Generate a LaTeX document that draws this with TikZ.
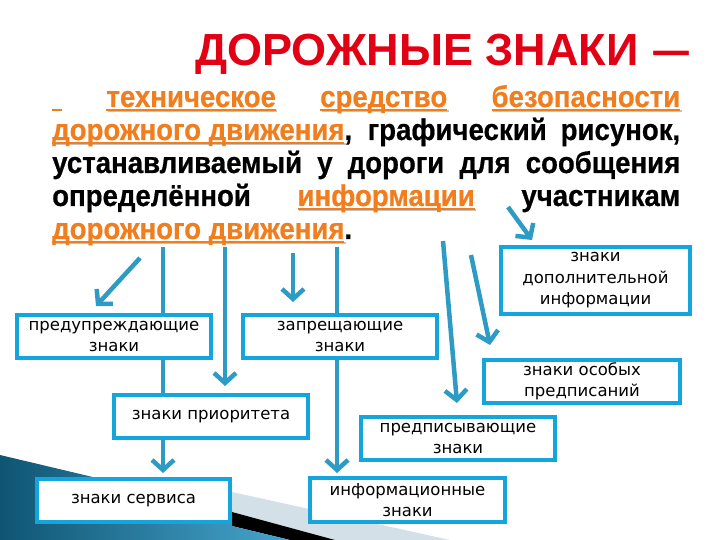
\documentclass[tikz,border=0pt]{standalone}
\usepackage{fontspec}
\usetikzlibrary{arrows.meta,calc}
\setmainfont{Liberation Sans}
\newfontfamily\titlefont{Liberation Sans Bold}
\newfontfamily\bodyfont{Liberation Sans Bold}[FakeStretch=0.92,FakeBold=0.6]
\newfontfamily\boxfont{DejaVu Sans}
\definecolor{boxblue}{RGB}{20,165,220}
\definecolor{arrowblue}{RGB}{45,155,195}
\definecolor{titlered}{RGB}{225,0,20}
\definecolor{ortext}{RGB}{240,125,30}
\definecolor{orshadow}{RGB}{195,195,195}
\definecolor{tealdark}{RGB}{15,85,115}
\definecolor{teallight}{RGB}{70,165,205}
\definecolor{bandgray}{RGB}{212,224,232}
\newcommand\ow[1]{\setbox0\hbox{#1}%
  \rlap{\kern1.5pt\textcolor{orshadow}{\rule[-5.5pt]{\wd0}{2pt}}}%
  {\color{ortext}\rlap{\rule[-4pt]{\wd0}{2pt}}\box0}}
\pgfdeclarelayer{bg}
\pgfsetlayers{bg,main}
\tikzset{
  sbox/.style={draw=boxblue, line width=4pt, fill=white, align=center, inner sep=0pt,
    text=black, font=\boxfont\fontsize{16.5}{21.5}\selectfont},
  arr/.style={draw=arrowblue, line width=4.5pt, -{Straight Barb[length=10pt,width=22pt]}},
  ln/.style={draw=arrowblue, line width=4.5pt}
}
\begin{document}
\begin{tikzpicture}[x=1pt,y=-1pt]
\useasboundingbox (0,0) rectangle (720,540);
% background decoration
\begin{pgfonlayer}{bg}
\fill[bandgray] (232,492) -- (450,540) -- (335,540) -- (232,512) -- cycle;
\fill[black] (232,512) -- (335,540) -- (290,540) -- (232,526) -- cycle;
\shade[left color=tealdark, right color=teallight] (0,455) -- (232,510) -- (232,526) -- (290,540) -- (0,540) -- cycle;
\end{pgfonlayer}
% title
\node[anchor=base west, inner sep=0pt, text=titlered, font=\titlefont\fontsize{45}{45}\selectfont] (title) at (195,66) {ДОРОЖНЫЕ ЗНАКИ \scalebox{1.6}[1]{–}};
% definition
\node[anchor=base west, inner sep=0pt] (def) at (52,107) {\parbox[t]{628pt}{\bodyfont\fontsize{30}{33}\selectfont
\makebox[628pt][s]{\textcolor{ortext}{\rule[-4pt]{10pt}{2pt}}\ \ow{техническое} \ow{средство} \ow{безопасности}}\par
\makebox[628pt][s]{\ow{дорожного движения}, графический рисунок,}\par
\makebox[628pt][s]{устанавливаемый у дороги для сообщения}\par
\makebox[628pt][s]{определённой \ow{информации} участникам}\par
\hbox{\ow{дорожного движения}.}}};
% boxes
\node[sbox, minimum width=189pt, minimum height=67pt] (dop) at (595.5,280.5) {знаки\\дополнительной\\информации};
\node[sbox, minimum width=194pt, minimum height=43pt] (pred) at (114,336.5) {предупреждающие\\знаки};
\node[sbox, minimum width=194pt, minimum height=43pt] (zap) at (340,336.5) {запрещающие\\знаки};
\node[sbox, minimum width=194pt, minimum height=43pt] (prio) at (211,416.5) {знаки приоритета};
\node[sbox, minimum width=196pt, minimum height=43pt] (osob) at (582,381.5) {знаки особых\\предписаний};
\node[sbox, minimum width=194pt, minimum height=43pt] (predp) at (458,438.5) {предписывающие\\знаки};
\node[sbox, minimum width=193pt, minimum height=43pt] (serv) at (133.5,500.5) {знаки сервиса};
\node[sbox, minimum width=195pt, minimum height=44pt] (info) at (407.5,500) {информационные\\знаки};
% connector start points
\coordinate (s1) at (140,258);
\coordinate (s2) at (163,247);
\coordinate (s3) at (225,247);
\coordinate (s4) at (293,253);
\coordinate (s5) at (337,247);
\coordinate (s6) at (443,241);
\coordinate (s7) at (471,255);
\coordinate (s8) at (508,207);
% lines passing behind boxes
\begin{pgfonlayer}{bg}
\draw[ln] (s2) -- (s2 |- prio.north);
\draw[arr, shorten >=3pt] (s5) -- (s5 |- info.north);
\end{pgfonlayer}
% arrows
\draw[arr] (s1) -- ($(pred.north)+(-18,-7)$);
\draw[arr, shorten >=7pt] (s3) -- (s3 |- prio.north);
\draw[arr, shorten >=11pt] (s4) -- (s4 |- zap.north);
\draw[arr] (s6) -- ($(predp.north)+(-1,-12)$);
\draw[arr] (s7) -- ($(osob.north)+(-92,-13)$);
\draw[arr] (s8) -- ($(dop.north)+(-63.5,-5)$);
\draw[arr, shorten >=4pt] (prio.south -| s2) -- (serv.north -| s2);
\end{tikzpicture}
\end{document}
